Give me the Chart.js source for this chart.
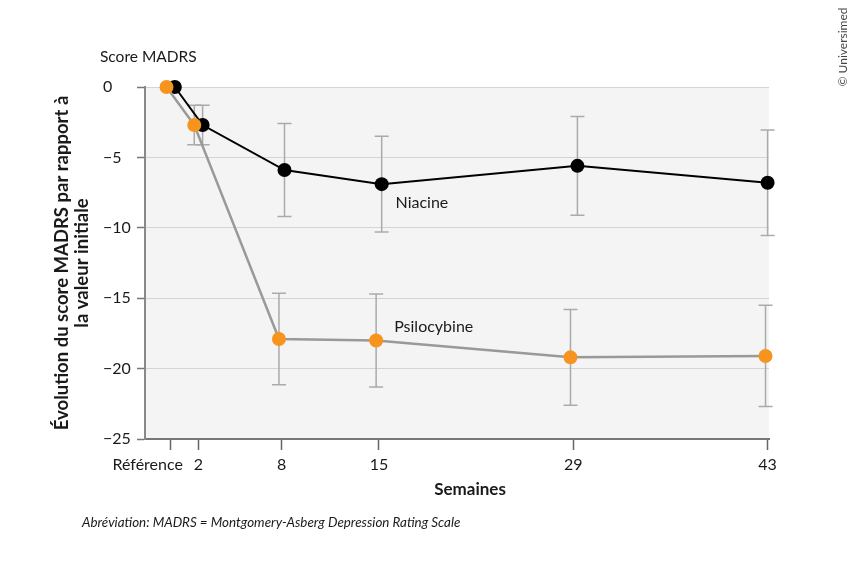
<!DOCTYPE html>
<html lang="fr">
<head>
    <meta charset="UTF-8">
    <title>Score MADRS</title>
    <script src="https://cdn.jsdelivr.net/npm/chart.js@4.4.0/dist/chart.umd.min.js"></script>
    <style>
        html, body { margin: 0; padding: 0; background: #fff; }
        #wrap { width: 854px; height: 565px; position: relative; }
    </style>
</head>
<body>
<div id="wrap"><canvas id="madrsChart" width="854" height="565"></canvas></div>
<script>
    // weeks shown on the x axis
    const weekTicks = [0, 2, 8, 15, 29, 43];
    const weekLabels = ['Référence', '2', '8', '15', '29', '43'];

    // plotted time points (series are slightly dodged around each week)
    const niacineWeeks = [0.3, 2.3, 8.2, 15.2, 29.3, 43.0];
    const psiloWeeks = [-0.3, 1.7, 7.8, 14.8, 28.8, 42.85];

    // mean change from baseline
    const niacineMean = [0, -2.7, -5.9, -6.9, -5.6, -6.8];
    const psiloMean = [0, -2.7, -17.9, -18.0, -19.2, -19.1];

    // error bar half-lengths
    const niacineErr = [0, 1.4, 3.3, 3.4, 3.5, 3.75];
    const psiloErr = [0, 1.4, 3.25, 3.3, 3.4, 3.6];

    const FONT = 'Lato, "Noto Sans", sans-serif';
    const toPoints = (xs, ys) => xs.map((x, i) => ({ x: x, y: ys[i] }));

    const chartDecor = {
        id: 'chartDecor',
        beforeDraw(chart) {
            const { ctx, chartArea: a } = chart;
            ctx.save();
            ctx.fillStyle = '#f4f4f4';
            ctx.fillRect(a.left, a.top, a.right - a.left, a.bottom - a.top);
            ctx.restore();
        },
        beforeDatasetsDraw(chart) {
            const { ctx, scales: { x, y } } = chart;
            const sets = [[niacineWeeks, niacineMean, niacineErr], [psiloWeeks, psiloMean, psiloErr]];
            ctx.save();
            ctx.strokeStyle = '#aaaaaa';
            ctx.lineWidth = 1.5;
            sets.forEach(([xs, ms, es]) => {
                xs.forEach((wk, i) => {
                    if (!es[i]) return;
                    const px = x.getPixelForValue(wk);
                    const top = y.getPixelForValue(ms[i] + es[i]);
                    const bot = y.getPixelForValue(ms[i] - es[i]);
                    ctx.beginPath();
                    ctx.moveTo(px, top); ctx.lineTo(px, bot);
                    ctx.moveTo(px - 7, top); ctx.lineTo(px + 7, top);
                    ctx.moveTo(px - 7, bot); ctx.lineTo(px + 7, bot);
                    ctx.stroke();
                });
            });
            ctx.restore();
        },
        afterDraw(chart) {
            const { ctx, chartArea: a, scales: { x, y } } = chart;
            ctx.save();
            ctx.fillStyle = '#1a1a1a';
            ctx.textBaseline = 'middle';

            // series labels
            ctx.font = '16px ' + FONT;
            ctx.textAlign = 'left';
            ctx.fillText('Niacine', x.getPixelForValue(16.2), y.getPixelForValue(-8.2));
            ctx.fillText('Psilocybine', x.getPixelForValue(16.1), y.getPixelForValue(-17.0));

            // unit label above axis
            ctx.font = '15.5px ' + FONT;
            ctx.fillText('Score MADRS', 100, 57);

            // x title
            ctx.font = 'bold 17px ' + FONT;
            ctx.textAlign = 'center';
            ctx.fillText('Semaines', 470, 490);

            // y title
            ctx.save();
            ctx.font = 'bold 18.5px ' + FONT;
            ctx.translate(62, (a.top + a.bottom) / 2);
            ctx.rotate(-Math.PI / 2);
            ctx.fillText('Évolution du score MADRS par rapport à', 0, 0);
            ctx.fillText('la valeur initiale', 0, 20);
            ctx.restore();

            // footnote
            ctx.font = 'italic 13.4px ' + FONT;
            ctx.textAlign = 'left';
            ctx.fillText('Abréviation: MADRS = Montgomery-Asberg Depression Rating Scale', 82, 523);

            // credit
            ctx.save();
            ctx.fillStyle = '#444';
            ctx.font = '12px ' + FONT;
            ctx.translate(843, 47);
            ctx.rotate(-Math.PI / 2);
            ctx.textAlign = 'center';
            ctx.fillText('© Universimed', 0, 0);
            ctx.restore();

            ctx.restore();
        }
    };

    const ctx = document.getElementById('madrsChart').getContext('2d');
    const madrsChart = new Chart(ctx, {
        type: 'line',
        data: {
            datasets: [
                {
                    label: 'Niacine',
                    data: toPoints(niacineWeeks, niacineMean),
                    borderColor: '#000000',
                    borderWidth: 2,
                    backgroundColor: '#000000',
                    pointRadius: 7,
                    pointBorderWidth: 0,
                    clip: false,
                    order: 2
                },
                {
                    label: 'Psilocybine',
                    data: toPoints(psiloWeeks, psiloMean),
                    borderColor: '#999999',
                    borderWidth: 2.5,
                    backgroundColor: '#f7941d',
                    pointBackgroundColor: '#f7941d',
                    pointRadius: 7,
                    pointBorderWidth: 0,
                    clip: false,
                    order: 1
                }
            ]
        },
        options: {
            responsive: false,
            animation: false,
            devicePixelRatio: 1,
            layout: { padding: { left: 103, right: 85, top: 87, bottom: 0 } },
            plugins: {
                legend: { display: false },
                tooltip: { enabled: false }
            },
            scales: {
                x: {
                    type: 'linear',
                    min: -1.85,
                    max: 43.1,
                    afterBuildTicks: (scale) => {
                        scale.ticks = weekTicks.map(v => ({ value: v }));
                    },
                    afterFit: (scale) => { scale.height = 126; },
                    ticks: {
                        autoSkip: false,
                        maxRotation: 0,
                        padding: 5,
                        color: '#1a1a1a',
                        font: { family: FONT, size: 16 },
                        callback: (v) => {
                            const i = weekTicks.indexOf(v);
                            if (i === 0) return weekLabels[0] + '\u2003\u2003\u2003\u2002\u2009';
                            return i >= 0 ? weekLabels[i] : '';
                        }
                    },
                    grid: {
                        drawOnChartArea: false,
                        drawTicks: true,
                        tickLength: 11,
                        tickColor: '#666666',
                        tickWidth: 1.5
                    },
                    border: { color: '#777777', width: 2 }
                },
                y: {
                    min: -25,
                    max: 0,
                    afterFit: (scale) => { scale.width = 42; },
                    ticks: {
                        stepSize: 5,
                        crossAlign: 'far',
                        color: '#1a1a1a',
                        font: { family: FONT, size: 16 },
                        callback: (v) => (v < 0 ? '\u2212' + Math.abs(v) : String(v))
                    },
                    grid: {
                        color: '#d4d4d4',
                        lineWidth: 1,
                        tickLength: 8,
                        tickColor: '#777777',
                        tickWidth: 1.5
                    },
                    border: { color: '#888888', width: 2 }
                }
            }
        },
        plugins: [chartDecor]
    });
</script>
</body>
</html>
